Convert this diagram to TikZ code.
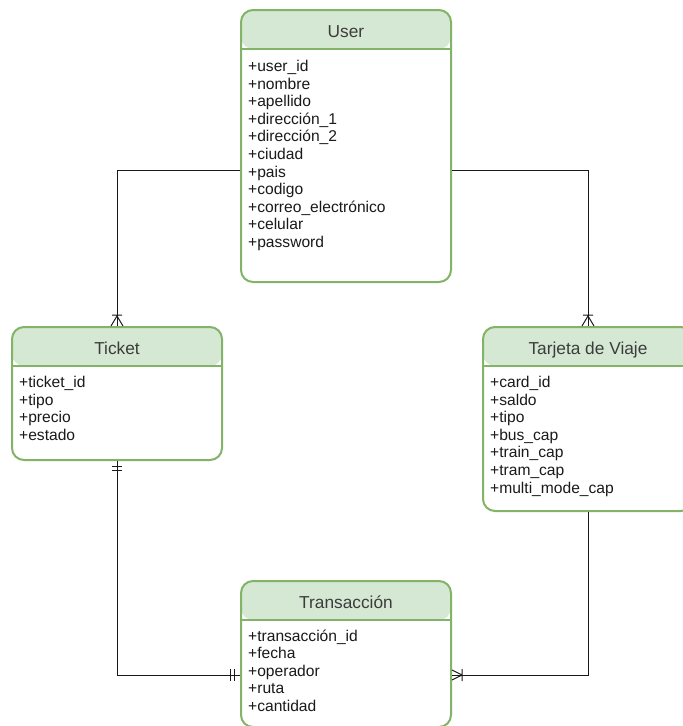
\documentclass[tikz,border=0pt]{standalone}
\usepackage{fontspec}
\setmainfont{Liberation Sans}
\usetikzlibrary{calc}
\definecolor{erline}{HTML}{82B366}
\definecolor{erfill}{HTML}{D5E8D4}
\definecolor{txt}{HTML}{1A1A1A}
\tikzset{
  entity/.style={draw=erline, line width=2pt, fill=white, rounded corners=12pt,
    inner sep=0pt, minimum width=210pt,
    path picture={
      \fill[erfill] (path picture bounding box.north west) rectangle
        ([yshift=-39pt]path picture bounding box.north east);
      \draw[erline, line width=2pt] ([yshift=-39pt]path picture bounding box.north west) --
        ([yshift=-39pt]path picture bounding box.north east);
    }},
  title/.style={font=\fontsize{17.3}{20}\selectfont, text=txt!85, inner sep=0pt, anchor=base},
  attrs/.style={font=\fontsize{15.6}{17.6}\selectfont, text=txt, align=left,
    anchor=north west, inner sep=0pt},
  rel/.style={draw=black!90, line width=1pt},
}
\begin{document}
\begin{tikzpicture}[x=1pt, y=-1pt]
  \useasboundingbox (0,0) rectangle (683,726);
  \clip (0,0) rectangle (683,726);

  % entities
  \node[entity, minimum height=272pt] (user) at (346,146) {};
  \node[title] at (346,37) {User};
  \node[attrs] (userattr) at (248,60) {+user\_id\\+nombre\\+apellido\\+dirección\_1\\+dirección\_2\\+ciudad\\+pais\\+codigo\\+correo\_electrónico\\+celular\\+password};

  \node[entity, minimum height=133pt] (ticket) at (117,393.5) {};
  \node[title] at (117,354) {Ticket};
  \node[attrs] (ticketattr) at (19,376) {+ticket\_id\\+tipo\\+precio\\+estado};

  \node[entity, minimum height=184pt] (tarjeta) at (588,419) {};
  \node[title] at (588,354) {Tarjeta de Viaje};
  \node[attrs] (tarjetaattr) at (490,376) {+card\_id\\+saldo\\+tipo\\+bus\_cap\\+train\_cap\\+tram\_cap\\+multi\_mode\_cap};

  \node[entity, minimum height=146pt] (trans) at (346,654) {};
  \node[title] at (346,608) {Transacción};
  \node[attrs] (transattr) at (248,629.5) {+transacción\_id\\+fecha\\+operador\\+ruta\\+cantidad};

  % connector corners
  \coordinate (uL) at ([yshift=-24pt]user.west);
  \coordinate (uR) at ([yshift=-24pt]user.east);
  \coordinate (tL) at ([yshift=-21pt]trans.west);
  \coordinate (tR) at ([yshift=-21pt]trans.east);

  % relationships
  \draw[rel] (uL) -| (ticket.north);
  \draw[rel] (uR) -| (tarjeta.north);
  \draw[rel] (ticket.south) |- (tL);
  \draw[rel] (tarjeta.south) |- (tR);

  % one-to-many at Ticket
  \draw[rel] ([yshift=10pt]ticket.north) -- ++(-6,10)
             ([yshift=10pt]ticket.north) -- ++(6,10)
             ([yshift=11pt,xshift=-5pt]ticket.north) -- ++(10,0);
  % one-to-many at Tarjeta de Viaje
  \draw[rel] ([yshift=10pt]tarjeta.north) -- ++(-6,10)
             ([yshift=10pt]tarjeta.north) -- ++(6,10)
             ([yshift=11pt,xshift=-5pt]tarjeta.north) -- ++(10,0);
  % mandatory one below Ticket
  \draw[rel] ([yshift=-5pt,xshift=-5pt]ticket.south) -- ++(10,0)
             ([yshift=-9pt,xshift=-5pt]ticket.south) -- ++(10,0);
  % mandatory one left of Transacción
  \draw[rel] ([xshift=-10pt,yshift=6pt]tL) -- ++(0,12)
             ([xshift=-6pt,yshift=6pt]tL) -- ++(0,12);
  % one-to-many right of Transacción
  \draw[rel] ([xshift=10pt]tR) -- ++(-10,-5)
             ([xshift=10pt]tR) -- ++(-10,5)
             ([xshift=10pt,yshift=6pt]tR) -- ++(0,12);
\end{tikzpicture}
\end{document}
